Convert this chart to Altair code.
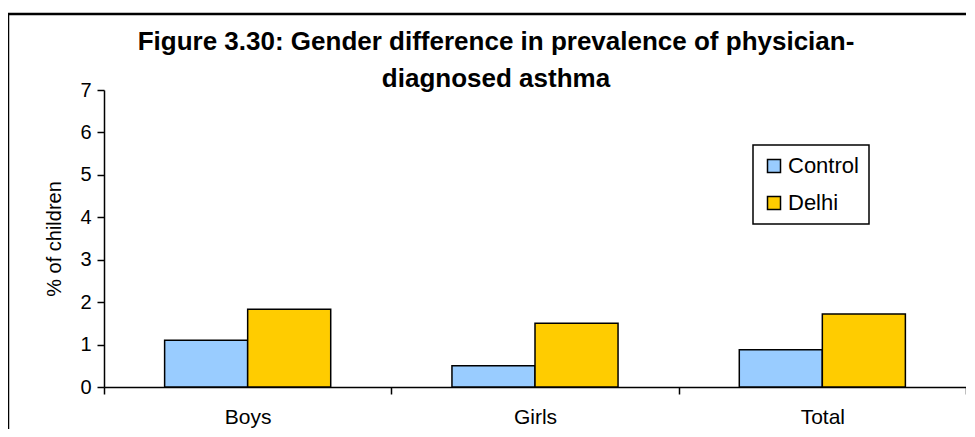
import altair as alt
import pandas as pd

categories = ["Boys", "Girls", "Total"]
series = ["Control", "Delhi"]
control = [1.1, 0.5, 0.88]
delhi = [1.83, 1.5, 1.72]
colors = ["#99CCFF", "#FFCC00"]
y_ticks = [0, 1, 2, 3, 4, 5, 6, 7]
title_lines = ["Figure 3.30: Gender difference in prevalence of physician-", "diagnosed asthma"]

rows = []
for i, c in enumerate(categories):
    rows.append({"group": c, "series": "Control", "value": control[i]})
    rows.append({"group": c, "series": "Delhi", "value": delhi[i]})
df = pd.DataFrame(rows)

FONT = "Liberation Sans"

bars = alt.Chart(df).mark_bar(stroke="black", strokeWidth=1.5).encode(
    x=alt.X("group:N", sort=categories,
            scale=alt.Scale(paddingInner=0, paddingOuter=0),
            axis=alt.Axis(title=None, labelAngle=0, tickBand="extent", grid=False,
                          labelFont=FONT, labelFontSize=21, labelColor="black",
                          labelPadding=12, tickSize=7, tickColor="black", tickWidth=1.5,
                          domainColor="black", domainWidth=1.5)),
    xOffset=alt.XOffset("series:N", sort=series,
                        scale=alt.Scale(paddingInner=0, paddingOuter=0.73)),
    y=alt.Y("value:Q", scale=alt.Scale(domain=[0, 7], nice=False),
            axis=alt.Axis(values=y_ticks, title="% of children", grid=False,
                          labelFont=FONT, labelFontSize=20, labelColor="black",
                          labelPadding=6, tickSize=7, tickColor="black", tickWidth=1.5,
                          domainColor="black", domainWidth=1.5,
                          titleFont=FONT, titleFontSize=20, titleFontWeight="normal",
                          titleColor="black", titlePadding=15)),
    color=alt.Color("series:N", sort=series,
                    scale=alt.Scale(domain=series, range=colors),
                    legend=alt.Legend(title=None, orient="none", legendX=649, legendY=55,
                                      symbolType="square", symbolSize=169,
                                      symbolStrokeColor="black", symbolStrokeWidth=1.5,
                                      labelFont=FONT, labelFontSize=22, labelColor="black",
                                      labelOffset=3, rowPadding=15, padding=10,
                                      strokeColor="black", fillColor="white")),
)

frame = alt.Chart(pd.DataFrame({"a": [0]})).mark_rect(
    fillOpacity=0, stroke="black", strokeWidth=2.5, clip=False
).encode(x=alt.value(-96), x2=alt.value(900), y=alt.value(-76), y2=alt.value(400))

chart = alt.layer(frame, bars).properties(
    width=862, height=297,
    autosize=alt.AutoSizeParams(type="none"),
    padding={"left": 96, "top": 82, "right": 0, "bottom": 42},
    title=alt.TitleParams(text=title_lines, font=FONT, fontSize=26, fontWeight="bold",
                          color="black", anchor="middle", frame="group", dx=-39,
                          offset=-79, lineHeight=37),
).configure_view(stroke="transparent").configure_legend(strokeWidth=1.5)

chart.save("out.html", embed_options={"renderer": "svg", "actions": False})
